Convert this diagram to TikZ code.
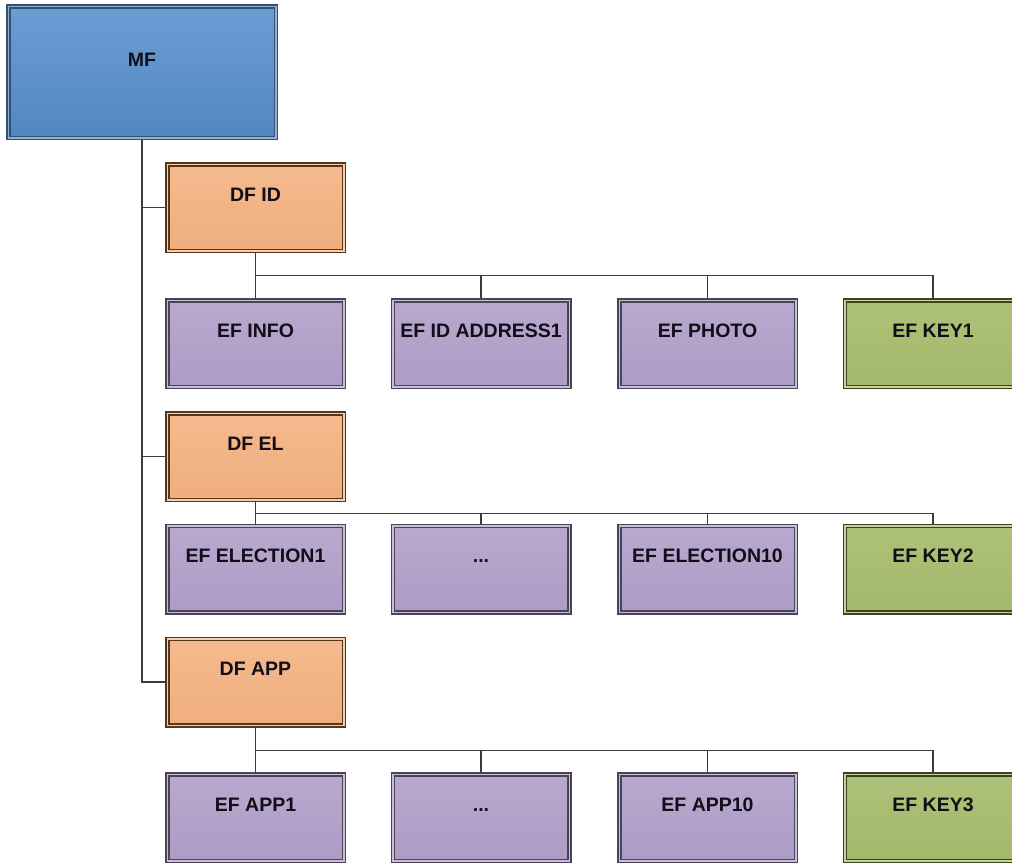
\documentclass[tikz,border=0pt]{standalone}
\usepackage{fontspec}
\setmainfont{Liberation Sans}
\usetikzlibrary{calc}
\definecolor{mfTop}{HTML}{6C9DD3}
\definecolor{mfBot}{HTML}{5187C0}
\definecolor{mfLine}{HTML}{34506E}
\definecolor{mfGap}{HTML}{8FB2D9}
\definecolor{dfTop}{HTML}{F4BA8E}
\definecolor{dfBot}{HTML}{EFAE7E}
\definecolor{dfLine}{HTML}{5A3618}
\definecolor{dfGap}{HTML}{F6CFB0}
\definecolor{efTop}{HTML}{B9A9CF}
\definecolor{efBot}{HTML}{AC9CC6}
\definecolor{efLine}{HTML}{4A4456}
\definecolor{efGap}{HTML}{C9BEDA}
\definecolor{kyTop}{HTML}{AEC179}
\definecolor{kyBot}{HTML}{A3B96A}
\definecolor{kyLine}{HTML}{3A4520}
\definecolor{kyGap}{HTML}{C6D3A0}
\definecolor{txt}{HTML}{120E18}
\definecolor{connCol}{HTML}{3C3C3C}
\tikzset{
  boxbase/.style={rectangle, line width=1.5pt, double distance=1.5pt, outer sep=2.25pt,
    minimum width=176.5pt, minimum height=86.5pt, inner sep=0pt,
    font=\fontsize{19.5}{20}\selectfont\bfseries, text=txt,
    text height=14pt, text depth=27pt},
  mfbox/.style={boxbase, draw=mfLine, double=mfGap, top color=mfTop, bottom color=mfBot,
    minimum width=267.5pt, minimum height=131.5pt, text depth=26pt},
  dfbox/.style={boxbase, draw=dfLine, double=dfGap, top color=dfTop, bottom color=dfBot},
  efbox/.style={boxbase, draw=efLine, double=efGap, top color=efTop, bottom color=efBot},
  keybox/.style={boxbase, draw=kyLine, double=kyGap, top color=kyTop, bottom color=kyBot},
  conn/.style={draw=connCol, line width=1.3pt}
}
\begin{document}
\begin{tikzpicture}[x=1pt,y=-1pt]
\useasboundingbox[fill=white] (0,0) rectangle (1012,863);
% root
\node[mfbox] (MF) at (142,72) {MF};
% directories
\node[dfbox] (DFID) at (255.5,207.5) {DF ID};
\node[dfbox] (DFEL) at (255.5,456.5) {DF EL};
\node[dfbox] (DFAPP) at (255.5,682) {DF APP};
% row 1
\node[efbox] (E11) at (255.5,343.5) {EF INFO};
\node[efbox] (E12) at (481,343.5) {EF ID ADDRESS1};
\node[efbox] (E13) at (707.5,343.5) {EF PHOTO};
\node[keybox] (E14) at (933,343.5) {EF KEY1};
% row 2
\node[efbox] (E21) at (255.5,569) {EF ELECTION1};
\node[efbox] (E22) at (481,569) {...};
\node[efbox] (E23) at (707.5,569) {EF ELECTION10};
\node[keybox] (E24) at (933,569) {EF KEY2};
% row 3
\node[efbox] (E31) at (255.5,817.5) {EF APP1};
\node[efbox] (E32) at (481,817.5) {...};
\node[efbox] (E33) at (707.5,817.5) {EF APP10};
\node[keybox] (E34) at (933,817.5) {EF KEY3};
% trunk
\draw[conn] (MF.south) -- (MF.south |- DFAPP.west) -- (DFAPP.west);
\draw[conn] (MF.south |- DFID.west) -- (DFID.west);
\draw[conn] (MF.south |- DFEL.west) -- (DFEL.west);
% buses
\foreach \c in {E11,E12,E13,E14}{\draw[conn] (DFID.south) -- ++(0,22.5) -| (\c.north);}
\foreach \c in {E21,E22,E23,E24}{\draw[conn] (DFEL.south) -- ++(0,11.5) -| (\c.north);}
\foreach \c in {E31,E32,E33,E34}{\draw[conn] (DFAPP.south) -- ++(0,23) -| (\c.north);}
\end{tikzpicture}
\end{document}
